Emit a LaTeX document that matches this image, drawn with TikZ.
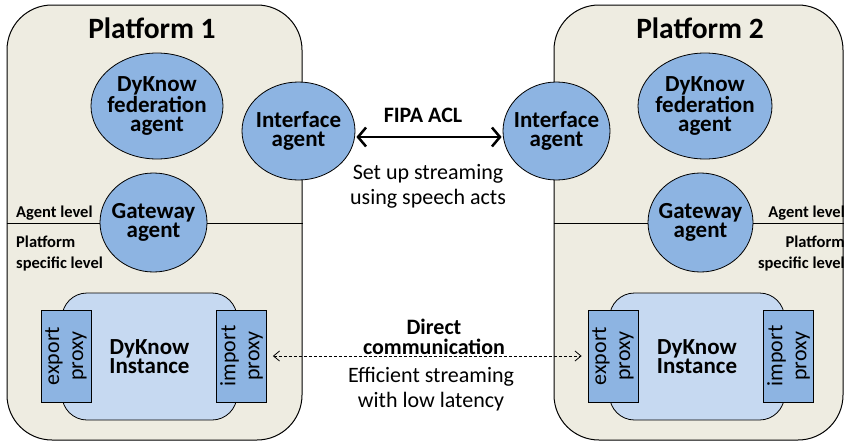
\documentclass[tikz,border=0pt]{standalone}
\usepackage{fontspec}
\setmainfont{Carlito}
\usetikzlibrary{arrows.meta,positioning,shapes.geometric}

\definecolor{platformbg}{HTML}{EEECE1}
\definecolor{agentblue}{HTML}{8DB4E2}
\definecolor{instanceblue}{HTML}{C6D9F1}

\begin{document}
\begin{tikzpicture}[
        x=1pt, y=-1pt,
        platform/.style={
          draw,
          line width=1pt,
          fill=platformbg,
          rounded corners=45pt,
          minimum width=#1,
          minimum height=435pt,
          inner sep=0pt
        },
        agent/.style 2 args={
          draw,
          ellipse,
          line width=0.8pt,
          fill=agentblue,
          inner sep=0pt,
          minimum width=#1,
          minimum height=#2
        },
        agentlabel/.style={
          align=center,
          inner sep=0pt,
          font=\fontsize{23}{19.5}\selectfont\bfseries
        },
        instance/.style={
          draw,
          line width=0.8pt,
          fill=instanceblue,
          rounded corners=25pt,
          minimum width=175pt,
          minimum height=127pt,
          align=center,
          font=\fontsize{23}{19.5}\selectfont\bfseries
        },
        proxy/.style={
          draw,
          line width=0.8pt,
          fill=agentblue,
          inner sep=0pt,
          minimum width=50pt,
          minimum height=92pt
        },
        proxylabel/.style={
          align=center,
          inner sep=0pt,
          font=\fontsize{22}{24}\selectfont
        },
        title/.style={font=\fontsize{29.5}{30}\selectfont\bfseries, inner sep=0pt},
        levellabel/.style={font=\fontsize{16.5}{21}\selectfont\bfseries, inner sep=0pt},
        boldnote/.style={align=center, inner sep=0pt, font=\fontsize{22}{20}\selectfont\bfseries},
        note/.style={align=center, inner sep=0pt, font=\fontsize{22}{25}\selectfont},
        fipa/.style={line width=2.5pt, {Straight Barb[length=8pt,width=19pt]}-{Straight Barb[length=8pt,width=19pt]}},
        direct/.style={line width=0.8pt, dash pattern=on 3pt off 2pt,
          {Straight Barb[length=6pt,width=10pt]}-{Straight Barb[length=6pt,width=10pt]}}
      ]

        \useasboundingbox (0,0) rectangle (846,442);

        % platforms
        \node[platform=295pt] (p1) at (154.5,222.5) {};
        \node[platform=289pt] (p2) at (698.5,222.5) {};
        \draw[line width=0.8pt] (p1.west |- 0,223) -- (p1.east |- 0,223);
        \draw[line width=0.8pt] (p2.west |- 0,223) -- (p2.east |- 0,223);

        \node[title, anchor=base] (title1) at (152,38) {Platform 1};
        \node[title, anchor=base] (title2) at (700,38) {Platform 2};

        % level labels
        \node[levellabel, anchor=base west] (agentlvl1) at (16,217) {Agent level};
        \node[levellabel, align=left, anchor=north west] (specific1) at (16,236) {Platform\\specific level};
        \node[levellabel, anchor=base east] (agentlvl2) at (845,217) {Agent level};
        \node[levellabel, align=right, anchor=north east] (specific2) at (845,236) {Platform\\specific level};

        % agents
        \node[agent={132pt}{106pt}, label={[agentlabel]center:{DyKnow\\federation\\agent}}] (fed1) at (157,106) {};
        \node[agent={134pt}{106pt}, label={[agentlabel]center:{DyKnow\\federation\\agent}}] (fed2) at (705,106) {};
        \node[agent={113pt}{98pt}, label={[agentlabel]center:{Interface\\agent}}] (if1) at (298.5,131) {};
        \node[agent={107pt}{98pt}, label={[agentlabel]center:{Interface\\agent}}] (if2) at (556.5,131) {};
        \node[agent={107pt}{99pt}, label={[agentlabel]center:{Gateway\\agent}}] (gw1) at (153.5,222.5) {};
        \node[agent={105pt}{99pt}, label={[agentlabel]center:{Gateway\\agent}}] (gw2) at (700.5,222.5) {};

        % instances
        \node[instance] (inst1) at (149.5,356.5) {DyKnow\\Instance};
        \node[instance] (inst2) at (697,356.5) {DyKnow\\Instance};
        \node[proxy, label={[proxylabel, rotate=90]center:{export\\proxy}}] (exp1) at (66,356) {};
        \node[proxy, label={[proxylabel, rotate=90]center:{import\\proxy}}] (imp1) at (241.5,356) {};
        \node[proxy, label={[proxylabel, rotate=90]center:{export\\proxy}}] (exp2) at (613,356) {};
        \node[proxy, label={[proxylabel, rotate=90]center:{import\\proxy}}] (imp2) at (788.5,356) {};

        % communication
        \draw[fipa, shorten <=1pt, shorten >=1pt] ([yshift=-6pt]if1.east) -- ([yshift=-6pt]if2.west);
        \node[boldnote, anchor=base] (fipalbl) at (423,122) {FIPA ACL};
        \node[note, anchor=north] (setup) at (428,164) {Set up streaming\\using speech acts};

        \draw[direct, shorten <=6pt, shorten >=6pt] (imp1.east) -- (exp2.west);
        \node[boldnote, anchor=north] (directlbl) at (434,319) {Direct\\communication};
        \node[note, anchor=north] (efficient) at (431,367) {Efficient streaming\\with low latency};

      \end{tikzpicture}
\end{document}
